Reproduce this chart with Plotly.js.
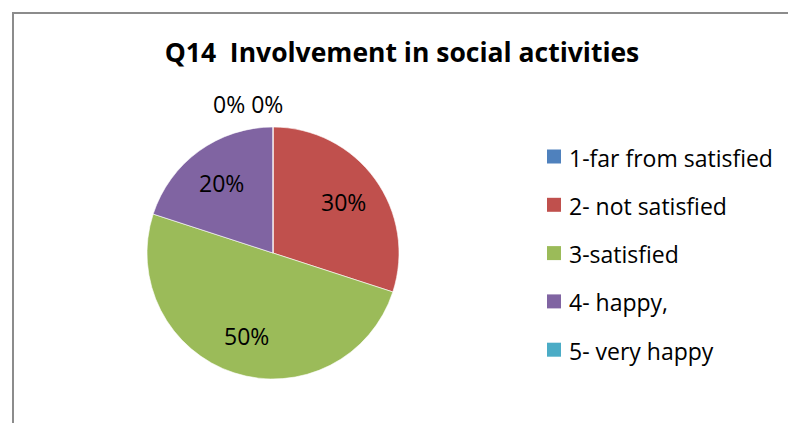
<!DOCTYPE html>
<html>
<head>
<meta charset="utf-8">
<script src="https://cdn.plot.ly/plotly-3.0.1.min.js"></script>
<style>
  html, body { margin: 0; padding: 0; background: #fff; }
  #wrap { position: relative; width: 788px; height: 423px; overflow: hidden; }
  #chart { position: absolute; left: 0; top: 0; width: 788px; height: 423px; }
  #frame { position: absolute; left: 12px; top: 12px; width: 800px; height: 440px;
           border-left: 2px solid #8c8c8c; border-top: 2px solid #8c8c8c; pointer-events: none; }
</style>
</head>
<body>
<div id="wrap">
  <div id="chart"></div>
  <div id="frame"></div>
</div>
<script>
const categories = ["1-far from satisfied", "2- not satisfied", "3-satisfied", "4- happy,", "5- very happy"];
const values = [0, 30, 50, 20, 0];
const colors = ["#4F81BD", "#C0504D", "#9BBB59", "#8064A2", "#4BACC6"];
const chartTitle = "Q14  Involvement in social activities";

const W = 788, H = 423;
const FONT = "'Open Sans', sans-serif";
const total = values.reduce((a, b) => a + b, 0);
const pct = values.map(v => Math.round(v / total * 100) + "%");

// pie geometry (pixels)
const pieL = 147, pieR = 399, pieT = 127, pieB = 379;
const cx = (pieL + pieR) / 2, cy0 = (pieT + pieB) / 2, rad = (pieR - pieL) / 2;

const trace = {
  type: "pie",
  labels: categories,
  values: values,
  textinfo: "none",
  marker: { colors: colors, line: { color: "#ffffff", width: 0.6 } },
  sort: false,
  direction: "clockwise",
  rotation: 0,
  showlegend: false,
  hoverinfo: "label+percent",
  domain: { x: [pieL / W, pieR / W], y: [1 - pieB / H, 1 - pieT / H] }
};

const shapes = [];
const annotations = [];

// Data labels: placed along each slice's mid-angle (Excel style)
let cum = 0;
const zeroLabels = [];
values.forEach((v, i) => {
  const mid = (cum + v / 2) / total * 2 * Math.PI;
  cum += v;
  if (v === 0) { zeroLabels.push(pct[i]); return; }
  const r = 0.69 * rad;
  const px = cx + r * Math.sin(mid), py = cy0 - r * Math.cos(mid);
  annotations.push({
    xref: "paper", yref: "paper", x: px / W, y: 1 - py / H,
    xanchor: "center", yanchor: "middle", showarrow: false,
    text: pct[i], font: { family: FONT, size: 23, color: "#000" }
  });
});
annotations.push({
  xref: "paper", yref: "paper", x: 248 / W, y: 1 - 104 / H,
  xanchor: "center", yanchor: "middle", showarrow: false,
  text: zeroLabels.join(" "), font: { family: FONT, size: 23, color: "#000" }
});

// Legend built from the category/color arrays
const legX = 547, legTextX = 567, legY0 = 156.5, legStep = 48.3, sq = 14;
categories.forEach((c, i) => {
  const ly = legY0 + i * legStep;
  shapes.push({
    type: "rect", xref: "paper", yref: "paper",
    x0: legX / W, x1: (legX + sq) / W,
    y0: 1 - (ly + sq / 2) / H, y1: 1 - (ly - sq / 2) / H,
    fillcolor: colors[i], line: { width: 0 }
  });
  annotations.push({
    xref: "paper", yref: "paper", x: legTextX / W, y: 1 - (ly + 1) / H,
    xanchor: "left", yanchor: "middle", showarrow: false,
    text: c, font: { family: FONT, size: 23, color: "#000" }
  });
});

const layout = {
  width: W, height: H,
  margin: { l: 0, r: 0, t: 0, b: 0 },
  paper_bgcolor: "#ffffff",
  title: {
    text: "<b>" + chartTitle + "</b>",
    x: 402 / W, xanchor: "center", xref: "paper",
    y: 1 - 53 / H, yanchor: "middle", yref: "paper",
    font: { family: FONT, size: 26.5, color: "#000" }
  },
  showlegend: false,
  shapes: shapes,
  annotations: annotations
};

Plotly.newPlot("chart", [trace], layout, { displayModeBar: false, staticPlot: true });
</script>
</body>
</html>
